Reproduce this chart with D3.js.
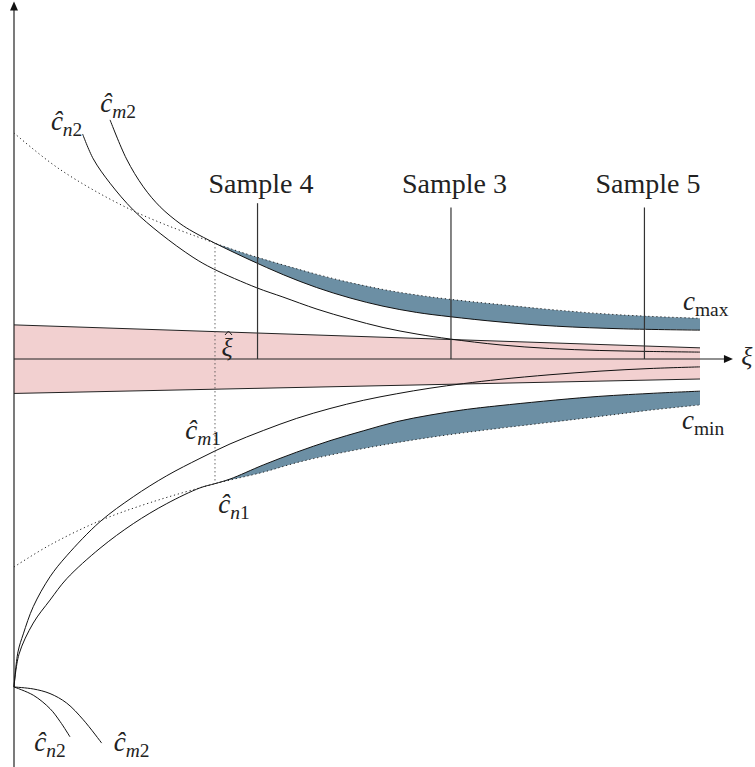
<!DOCTYPE html>
<html>
<head>
<meta charset="utf-8">
<script src="https://cdn.jsdelivr.net/npm/d3@7"></script>
<style>
  body { margin: 0; background: #fff; }
  text { font-family: "Liberation Serif", "DejaVu Serif", serif; fill: #222; }
</style>
</head>
<body>
<div id="chart"></div>
<script>
// --- data (xi along the horizontal axis, c up the vertical one) ---
const xiEnd = 10;
const xiAxisEnd = 10.48;
const cAxisTop = 1.09;
const cAxisBottom = -1.25;
const xiHat = 2.93;

const samples = ["Sample 4", "Sample 3", "Sample 5"];
const sampleXi = [3.55, 6.37, 9.19];
const sampleTop = [0.475, 0.462, 0.462];

// pink band around the xi axis
const bandXi = [0, 10];
const bandUpper = [0.104, 0.034];
const bandLower = [-0.105, -0.061];

// upper curves
const cHatN2 = [[1.00, 0.686], [1.156, 0.610], [1.40, 0.536], [1.74, 0.454], [2.13, 0.383],
  [2.61, 0.310], [2.905, 0.275], [3.54, 0.217], [3.92, 0.189], [4.417, 0.152], [4.90, 0.122],
  [5.38, 0.096], [5.875, 0.076], [6.356, 0.061], [7.085, 0.043], [7.81, 0.032], [8.54, 0.026],
  [9.27, 0.023], [10, 0.021]];
const cHatM2 = [[1.40, 0.729], [1.64, 0.610], [1.885, 0.525], [2.13, 0.464], [2.42, 0.413],
  [2.61, 0.388], [2.93, 0.353], [3.44, 0.302], [3.925, 0.257], [4.41, 0.218], [4.90, 0.186],
  [5.38, 0.161], [5.87, 0.142], [6.356, 0.129], [7.085, 0.113], [7.91, 0.100], [8.88, 0.092],
  [10, 0.088]];
const cMax = [[0, 0.689], [0.67, 0.578], [1.735, 0.452], [2.93, 0.353], [3.44, 0.317],
  [3.92, 0.287], [4.417, 0.258], [4.90, 0.233], [5.38, 0.212], [5.875, 0.195], [6.356, 0.182],
  [7.085, 0.166], [7.915, 0.149], [8.88, 0.134], [10, 0.124]];

// lower curves
const cHatM1 = [[0, -1.0], [0.058, -0.893], [0.136, -0.838], [0.281, -0.755], [0.525, -0.664],
  [0.768, -0.600], [1.254, -0.496], [1.739, -0.420], [2.226, -0.356], [2.711, -0.303],
  [3.149, -0.259], [3.634, -0.218], [4.121, -0.181], [4.606, -0.151], [5.092, -0.126],
  [5.579, -0.106], [6.064, -0.089], [6.55, -0.075], [7.085, -0.062], [7.813, -0.048],
  [8.542, -0.037], [9.271, -0.029], [10, -0.024]];
const cHatN1 = [[0, -1.0], [0.073, -0.900], [0.281, -0.805], [0.525, -0.735], [0.768, -0.670],
  [1.254, -0.577], [1.739, -0.502], [2.226, -0.441], [2.711, -0.393], [2.93, -0.380],
  [3.149, -0.366], [3.634, -0.323], [4.121, -0.284], [4.606, -0.249], [5.092, -0.219],
  [5.579, -0.191], [6.064, -0.171], [6.55, -0.155], [7.085, -0.142], [8.397, -0.116],
  [9.271, -0.105], [10, -0.098]];
const cMin = [[0, -0.634], [0.525, -0.567], [1.254, -0.493], [1.983, -0.438], [2.93, -0.380],
  [3.149, -0.369], [3.634, -0.345], [4.121, -0.316], [4.606, -0.293], [5.092, -0.273],
  [5.579, -0.255], [6.064, -0.239], [6.55, -0.225], [7.085, -0.211], [8.542, -0.175],
  [9.271, -0.156], [10, -0.140]];

// the two short curves at the bottom
const cHatN2Low = [[0, -1.0], [0.281, -1.025], [0.525, -1.066], [0.671, -1.105], [0.816, -1.152]];
const cHatM2Low = [[0, -1.0], [0.281, -1.006], [0.525, -1.020], [0.768, -1.049], [1.01, -1.100], [1.278, -1.171]];

// --- drawing ---
const W = 755, H = 767;
const blue = "#6c8fa4";
const pink = "#f2d0d0";

const x = d3.scaleLinear().domain([0, xiEnd]).range([14, 700]);
const y = d3.scaleLinear().domain([-1, 1]).range([687, 31]);

const svg = d3.select("#chart").append("svg")
  .attr("width", W)
  .attr("height", H);

const line = d3.line()
  .x(d => x(d[0]))
  .y(d => y(d[1]))
  .curve(d3.curveCatmullRom.alpha(0.5));

// region between two curves, from xiHat to the right end
function bandPath(top, bottom) {
  const a = top.filter(d => d[0] >= xiHat);
  const b = bottom.filter(d => d[0] >= xiHat).slice().reverse();
  return line(a) + line(b).replace(/^M/, "L") + "Z";
}

// pink band
const bandPts = bandXi.map((v, i) => ({ xi: v, hi: bandUpper[i], lo: bandLower[i] }));
svg.append("path")
  .datum(bandPts)
  .attr("d", d3.area().x(d => x(d.xi)).y0(d => y(d.lo)).y1(d => y(d.hi)))
  .attr("fill", pink);
[bandUpper, bandLower].forEach(edge => {
  svg.append("path")
    .attr("d", line(bandXi.map((v, i) => [v, edge[i]])))
    .attr("fill", "none").attr("stroke", "#222").attr("stroke-width", 1);
});

// blue bands
svg.append("path").attr("d", bandPath(cMax, cHatM2)).attr("fill", blue);
svg.append("path").attr("d", bandPath(cHatN1, cMin)).attr("fill", blue);

// axes
svg.append("line")
  .attr("x1", x(0)).attr("x2", x(0))
  .attr("y1", y(cAxisBottom)).attr("y2", y(cAxisTop) + 6)
  .attr("stroke", "#222").attr("stroke-width", 1.2);
svg.append("path")
  .attr("d", `M${x(0)},${y(cAxisTop)} l-4,9 l8,0 Z`)
  .attr("fill", "#111");
svg.append("line")
  .attr("x1", x(0)).attr("x2", x(xiAxisEnd) - 6)
  .attr("y1", y(0)).attr("y2", y(0))
  .attr("stroke", "#222").attr("stroke-width", 1.2);
svg.append("path")
  .attr("d", `M${x(xiAxisEnd)},${y(0)} l-9,-4 l0,8 Z`)
  .attr("fill", "#111");

// solid curves
[cHatN2, cHatM2, cHatM1, cHatN1, cHatN2Low, cHatM2Low].forEach(c => {
  svg.append("path")
    .attr("d", line(c))
    .attr("fill", "none")
    .attr("stroke", "#111")
    .attr("stroke-width", 1);
});

// dotted bounds
[cMax, cMin].forEach(c => {
  svg.append("path")
    .attr("d", line(c))
    .attr("fill", "none")
    .attr("stroke", "#222")
    .attr("stroke-width", 1)
    .attr("stroke-dasharray", "1.2,2.8");
});
svg.append("line")
  .attr("x1", x(xiHat)).attr("x2", x(xiHat))
  .attr("y1", y(cMax.find(d => d[0] === xiHat)[1]))
  .attr("y2", y(cMin.find(d => d[0] === xiHat)[1]))
  .attr("stroke", "#444")
  .attr("stroke-width", 1)
  .attr("stroke-dasharray", "1.2,2.8");

// sample lines
const labelY = y(d3.max(sampleTop)) - 10;
samples.forEach((s, i) => {
  svg.append("line")
    .attr("x1", x(sampleXi[i])).attr("x2", x(sampleXi[i]))
    .attr("y1", y(sampleTop[i])).attr("y2", y(0))
    .attr("stroke", "#333").attr("stroke-width", 1.2);
  svg.append("text")
    .attr("x", x(sampleXi[i]) + 3.5)
    .attr("y", labelY)
    .attr("text-anchor", "middle")
    .attr("font-size", 28)
    .text(s);
});

// math labels: base letter in italic, optional subscript parts
function mathLabel(px, py, anchor, base, sub, size) {
  const t = svg.append("text")
    .attr("x", px).attr("y", py)
    .attr("text-anchor", anchor)
    .attr("font-size", size);
  t.append("tspan").attr("font-style", "italic").text(base);
  (sub || []).forEach((p, i) => {
    const sp = t.append("tspan")
      .attr("font-size", size * 0.72)
      .attr("font-style", p[1] ? "italic" : "normal")
      .text(p[0]);
    if (i === 0) sp.attr("dy", size * 0.22);
  });
  return t;
}

const first = c => c[0];
const last = c => c[c.length - 1];
const sz = 27;

mathLabel(x(first(cHatN2)[0]) - 16, y(first(cHatN2)[1]) - 4, "middle", "ĉ", [["n", 1], ["2", 0]], sz);
mathLabel(x(first(cHatM2)[0]) + 8, y(first(cHatM2)[1]) - 8, "middle", "ĉ", [["m", 1], ["2", 0]], sz);
mathLabel(x(last(cHatN2Low)[0]) - 20, y(last(cHatN2Low)[1]) + 14, "middle", "ĉ", [["n", 1], ["2", 0]], sz);
mathLabel(x(last(cHatM2Low)[0]) + 30, y(last(cHatM2Low)[1]) + 8, "middle", "ĉ", [["m", 1], ["2", 0]], sz);
mathLabel(x(xiHat) + 6, y(-0.26) - 5, "end", "ĉ", [["m", 1], ["1", 0]], sz);
mathLabel(x(xiHat) + 19, y(-0.38) + 29, "middle", "ĉ", [["n", 1], ["1", 0]], sz);
mathLabel(x(last(cMax)[0]) - 17, y(last(cMax)[1]) - 8, "start", "c", [["max", 0]], sz);
mathLabel(x(last(cMin)[0]) - 18, y(last(cMin)[1]) + 24, "start", "c", [["min", 0]], sz);

// xi hat: the letter as text, the circumflex as a small stroke above it
mathLabel(x(xiHat) + 12, y(0) - 3, "middle", "ξ", null, 26);
const hx = x(xiHat) + 13.5, hy = y(0) - 28;
svg.append("path")
  .attr("d", `M${hx - 3.5},${hy + 4} L${hx},${hy} L${hx + 3.5},${hy + 4}`)
  .attr("fill", "none")
  .attr("stroke", "#222")
  .attr("stroke-width", 1);

mathLabel(x(xiAxisEnd) + 14, y(0) + 6, "middle", "ξ", null, 26);
</script>
</body>
</html>
